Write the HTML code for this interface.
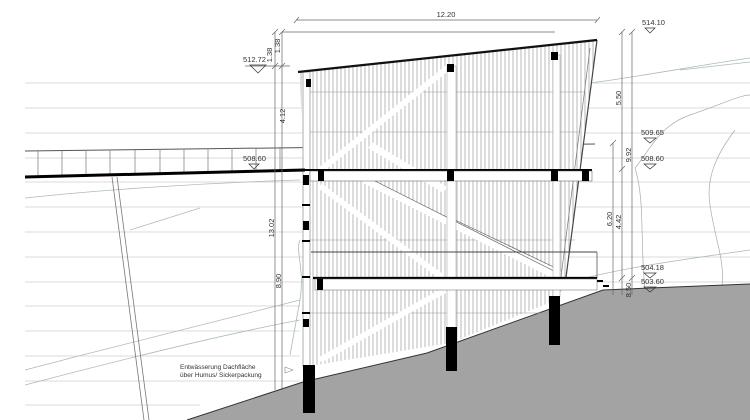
<!DOCTYPE html>
<html><head><meta charset="utf-8"><style>
html,body{margin:0;padding:0;background:#fff;}
svg{display:block;font-family:"Liberation Sans",sans-serif;}
</style></head><body>
<svg width="750" height="420" viewBox="0 0 750 420" xmlns="http://www.w3.org/2000/svg">
<defs>
<pattern id="slat" width="4" height="10" patternUnits="userSpaceOnUse">
<rect width="4" height="10" fill="#fff"/><line x1="1" y1="0" x2="1" y2="10" stroke="#9a9a9a" stroke-width="0.7"/>
</pattern>
</defs>
<g stroke="#cfcfcf" stroke-width="0.8">
<line x1="25" y1="83" x2="750" y2="83"/><line x1="25" y1="108" x2="750" y2="108"/>
<line x1="25" y1="133" x2="750" y2="133"/><line x1="25" y1="158" x2="750" y2="158"/>
<line x1="25" y1="182" x2="750" y2="182"/><line x1="25" y1="207" x2="750" y2="207"/>
<line x1="25" y1="232" x2="750" y2="232"/><line x1="25" y1="257" x2="750" y2="257"/>
<line x1="25" y1="282" x2="750" y2="282"/><line x1="25" y1="306" x2="300" y2="306"/>
<line x1="25" y1="331" x2="300" y2="331"/><line x1="25" y1="356" x2="300" y2="356"/>
<line x1="25" y1="381" x2="300" y2="381"/><line x1="25" y1="405" x2="200" y2="405"/>
</g>
<g fill="none" stroke="#a9bcb8" stroke-width="0.8">
<path d="M25,370 C120,345 220,320 300,300"/><path d="M25,385 C120,360 220,335 300,320"/>
<path d="M25,198 C100,190 200,183 300,180"/><path d="M130,230 L200,208"/>
<path d="M290,355 L300,300 C305,270 295,250 300,240"/>
<path d="M590,83 C650,75 700,65 750,58"/><path d="M680,70 L750,62"/>
<path d="M570,282 C620,268 680,260 750,250"/>
</g>
<g fill="none" stroke="#aaa" stroke-width="0.7">
<path d="M635,168 C650,150 660,125 690,115 C720,105 740,95 750,95"/>
<path d="M635,168 C645,200 640,240 645,290"/>
<path d="M735,130 C720,150 705,175 710,205 C715,240 725,260 722,287"/>
</g>
<polygon points="187,420 303,382 427,353 603,290 650,288 750,284 750,420" fill="#a3a3a3"/>
<polyline points="187,420 303,382 427,353 603,290 650,288 750,284" fill="none" stroke="#333" stroke-width="1"/>
<line x1="112" y1="177" x2="144" y2="420" stroke="#777" stroke-width="0.8"/>
<line x1="117" y1="177" x2="149" y2="420" stroke="#777" stroke-width="0.8"/>
<line x1="25" y1="151" x2="595" y2="144" stroke="#555" stroke-width="1"/>
<g stroke="#888" stroke-width="0.8">
<line x1="38" y1="151" x2="38" y2="175"/><line x1="62" y1="151" x2="62" y2="175"/><line x1="86" y1="150" x2="86" y2="174"/><line x1="110" y1="150" x2="110" y2="174"/><line x1="135" y1="150" x2="135" y2="173"/><line x1="160" y1="149" x2="160" y2="173"/><line x1="184" y1="149" x2="184" y2="173"/><line x1="208" y1="148" x2="208" y2="172"/><line x1="232" y1="148" x2="232" y2="172"/><line x1="256" y1="148" x2="256" y2="171"/><line x1="280" y1="147" x2="280" y2="171"/>
</g>
<polygon points="300,72 597,40 565,285 556,300 450,343 310,366" fill="url(#slat)"/>
<g stroke="#999" stroke-width="0.6"><line x1="310" y1="92" x2="585" y2="92"/><line x1="310" y1="132" x2="580" y2="132"/><line x1="310" y1="240" x2="575" y2="240"/><line x1="310" y1="313" x2="560" y2="313"/></g>
<g stroke="#fff" stroke-width="7"><line x1="365" y1="180" x2="560" y2="278"/><line x1="370" y1="145" x2="445" y2="190"/><line x1="455" y1="225" x2="560" y2="275"/></g>
<g stroke="#555" stroke-width="0.6"><line x1="365" y1="176" x2="560" y2="274"/><line x1="455" y1="220" x2="560" y2="270"/></g>
<g stroke="#fff" stroke-width="6"><line x1="318" y1="172" x2="450" y2="66"/><line x1="320" y1="186" x2="442" y2="277"/><line x1="320" y1="360" x2="445" y2="290"/></g>
<rect x="303" y="72" width="7" height="295" fill="#fff" stroke="#777" stroke-width="0.6"/>
<rect x="447" y="66" width="9" height="262" fill="#fff" stroke="#999" stroke-width="0.5"/>
<rect x="553" y="55" width="7" height="242" fill="#fff" stroke="#999" stroke-width="0.5"/>
<line x1="597" y1="40" x2="565" y2="285" stroke="#444" stroke-width="1.2"/>
<line x1="590" y1="48" x2="560" y2="285" stroke="#777" stroke-width="0.7"/>
<line x1="298" y1="72" x2="597" y2="40" stroke="#111" stroke-width="2.2"/>
<rect x="306" y="79" width="5" height="8" fill="#000"/><rect x="447" y="64" width="7" height="8" fill="#000"/><rect x="551" y="52" width="7" height="8" fill="#000"/>
<line x1="25" y1="177" x2="305" y2="170" stroke="#000" stroke-width="3"/>
<line x1="305" y1="170" x2="592" y2="170" stroke="#000" stroke-width="2"/>
<rect x="310" y="171" width="282" height="10" fill="#fff" stroke="#555" stroke-width="0.5"/>
<rect x="318" y="170" width="6" height="11" fill="#000"/><rect x="447" y="170" width="7" height="11" fill="#000"/><rect x="551" y="170" width="7" height="11" fill="#000"/><rect x="582" y="170" width="7" height="11" fill="#000"/>
<rect x="303" y="175" width="6" height="10" fill="#000"/>
<line x1="311" y1="252" x2="597" y2="252" stroke="#444" stroke-width="1"/>
<line x1="597" y1="252" x2="597" y2="278" stroke="#555" stroke-width="0.8"/>
<line x1="313" y1="278" x2="597" y2="278" stroke="#000" stroke-width="2.2"/>
<rect x="315" y="279" width="282" height="11" fill="#fff" stroke="#666" stroke-width="0.5"/>
<rect x="317" y="279" width="6" height="11" fill="#000"/>
<rect x="597" y="280" width="6" height="2" fill="#000"/><rect x="603" y="285" width="6" height="2" fill="#000"/>
<g fill="#000"><rect x="303" y="221" width="6" height="9"/><rect x="303" y="319" width="6" height="8"/><rect x="302" y="204" width="8" height="2"/><rect x="302" y="240" width="8" height="2"/><rect x="302" y="276" width="8" height="2"/><rect x="302" y="312" width="8" height="2"/></g>
<rect x="303" y="365" width="12" height="48" fill="#000"/>
<rect x="446" y="327" width="11" height="44" fill="#000"/>
<rect x="549" y="296" width="11" height="49" fill="#000"/>
<g stroke="#666" stroke-width="0.7" fill="none">
<line x1="296" y1="20" x2="597" y2="20"/><line x1="294" y1="23" x2="299" y2="17"/><line x1="595" y1="23" x2="600" y2="17"/>
<line x1="282" y1="32" x2="555" y2="32"/>
<line x1="275" y1="32" x2="275" y2="390"/><line x1="282" y1="32" x2="282" y2="390"/>
<line x1="622" y1="32" x2="622" y2="295"/><line x1="632" y1="32" x2="632" y2="295"/><line x1="613" y1="143" x2="613" y2="295"/>
<line x1="272" y1="35" x2="278" y2="29"/><line x1="279" y1="35" x2="285" y2="29"/><line x1="272" y1="69" x2="278" y2="63"/><line x1="279" y1="69" x2="285" y2="63"/>
<line x1="619" y1="35" x2="625" y2="29"/><line x1="629" y1="35" x2="635" y2="29"/><line x1="610" y1="146" x2="616" y2="140"/><line x1="619" y1="172" x2="625" y2="166"/>
<line x1="619" y1="281" x2="625" y2="275"/><line x1="629" y1="281" x2="635" y2="275"/>
<line x1="245" y1="66" x2="290" y2="66"/>
</g>
<g font-size="7.5" fill="#333">
<text x="446" y="17" text-anchor="middle">12.20</text>
<text transform="translate(272,55) rotate(-90)" text-anchor="middle">1.38</text>
<text transform="translate(280,46) rotate(-90)" text-anchor="middle">1.38</text>
<text transform="translate(285,116) rotate(-90)" text-anchor="middle">4.12</text>
<text transform="translate(274,228) rotate(-90)" text-anchor="middle">13.02</text>
<text transform="translate(281,281) rotate(-90)" text-anchor="middle">8.90</text>
<text transform="translate(621,98) rotate(-90)" text-anchor="middle">5.50</text>
<text transform="translate(631,155) rotate(-90)" text-anchor="middle">9.92</text>
<text transform="translate(612,219) rotate(-90)" text-anchor="middle">6.20</text>
<text transform="translate(621,222) rotate(-90)" text-anchor="middle">4.42</text>
<text transform="translate(631,290) rotate(-90)" text-anchor="middle">8.50</text>
</g>
<g font-size="7.5" fill="#333" stroke-width="0.7">
<text x="243" y="62">512.72</text><path d="M250,65 L258,73 L266,65 Z" fill="none" stroke="#333"/>
<text x="243" y="161">508.60</text><path d="M249,164 L254,169 L259,164 Z" fill="none" stroke="#333"/>
<text x="642" y="25">514.10</text><path d="M645,28 L650,33 L655,28 Z" fill="none" stroke="#333"/>
<text x="641" y="135">509.65</text><path d="M644,138 L650,143 L656,138 Z" fill="none" stroke="#333"/>
<text x="641" y="161">508.60</text><path d="M644,164 L650,169 L656,164 Z" fill="none" stroke="#333"/>
<text x="641" y="270">504.18</text><path d="M644,273 L650,278 L656,273 Z" fill="none" stroke="#333"/>
<text x="641" y="284">503.60</text><path d="M644,287 L650,292 L656,287 Z" fill="none" stroke="#333"/>
</g>
<g font-size="6.5" fill="#333">
<text x="180" y="369">Entwässerung Dachfläche</text>
<text x="180" y="377">über Humus/ Sickerpackung</text>
</g>
<path d="M285,367 L293,370 L285,373 Z" fill="none" stroke="#888" stroke-width="0.6"/>
</svg>
</body></html>
